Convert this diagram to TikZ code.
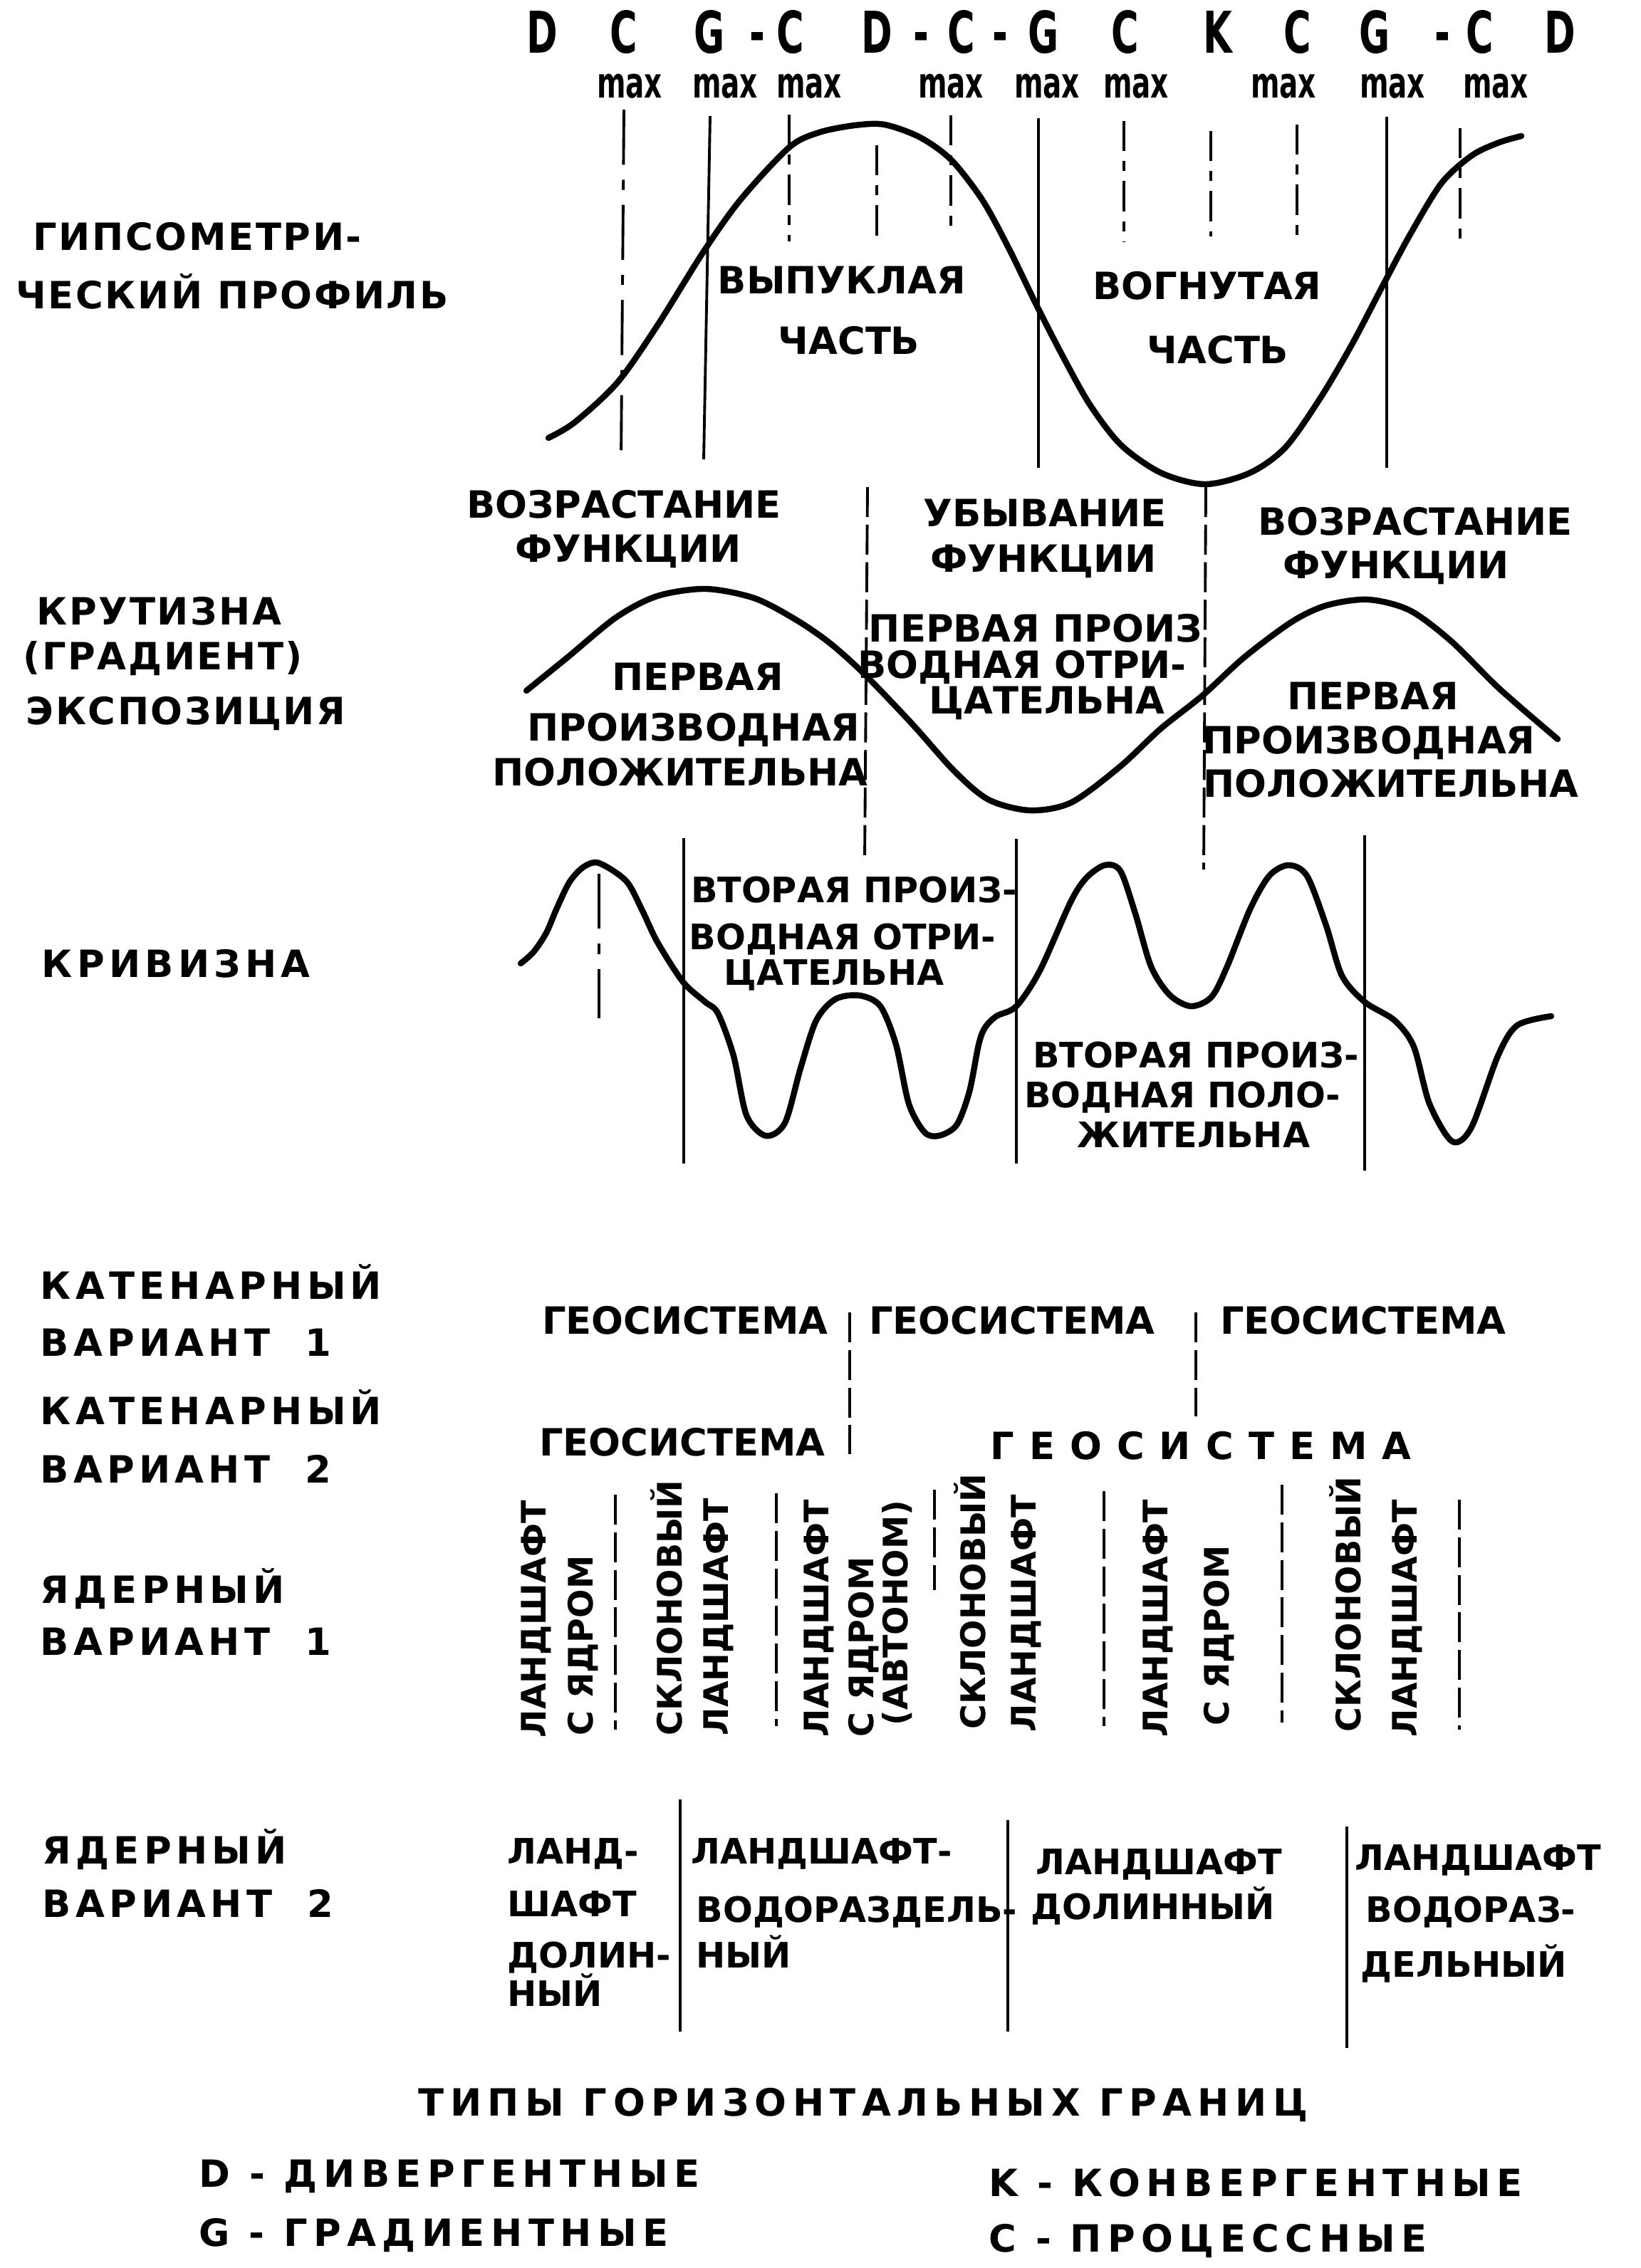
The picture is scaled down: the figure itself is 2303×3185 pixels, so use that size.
\documentclass[tikz,border=0pt]{standalone}
\usepackage{fontspec}
\setmainfont{DejaVu Sans}
\newfontfamily\narrowfont[FakeStretch=0.65]{DejaVu Sans}
\newfontfamily\sidefont[LetterSpace=5]{DejaVu Sans}
\newfontfamily\catfont[LetterSpace=12]{DejaVu Sans}
\newfontfamily\spacedfont[LetterSpace=40]{DejaVu Sans}
\newfontfamily\legendfont[LetterSpace=16]{DejaVu Sans}
\begin{document}
\begin{tikzpicture}[x=0.01cm,y=-0.01cm,
    lbl/.style={inner sep=0pt, font=\fontsize{15}{18}\selectfont\bfseries, text height=11pt, text depth=0pt},
    small/.style={inner sep=0pt, font=\fontsize{14}{17}\selectfont\bfseries, text height=10.2pt, text depth=0pt},
    side/.style={lbl, anchor=west, font=\sidefont\fontsize{15}{18}\selectfont\bfseries},
    cat/.style={lbl, anchor=west, font=\catfont\fontsize{15}{18}\selectfont\bfseries},
    vert/.style={inner sep=0pt, rotate=90, anchor=west, font=\fontsize{13.5}{16}\selectfont\bfseries, text height=9.9pt, text depth=0pt},
    letter/.style={inner sep=0pt, font=\narrowfont\fontsize{23}{26}\selectfont\bfseries, text height=16.8pt, text depth=0pt},
    maxlbl/.style={inner sep=0pt, font=\narrowfont\fontsize{17}{20}\selectfont\bfseries, text height=9.3pt, text depth=0pt},
    legend/.style={lbl, font=\legendfont\fontsize{15}{18}\selectfont\bfseries},
    curve/.style={line width=2.4pt, line join=round, line cap=round},
    solidline/.style={line width=1.1pt},
    dashdotline/.style={line width=1.1pt, dash pattern=on 22pt off 6pt on 4pt off 6pt},
    shortdash/.style={line width=1.1pt, dash pattern=on 12pt off 4pt on 4pt off 4pt},
    dashline/.style={line width=1.1pt, dash pattern=on 12pt off 3pt}]
    \useasboundingbox (0,0) rectangle (2303,3185);

    % boundary types along the profile
    \node[letter] (tD1) at (761,45) {D};
    \node[letter] (tC1) at (876,45) {C};
    \node[letter] (tG1) at (996,45) {G};
    \node[letter] (th1) at (1063,45) {-};
    \node[letter] (tC2) at (1110,45) {C};
    \node[letter] (tD2) at (1231,45) {D};
    \node[letter] (th2) at (1293,45) {-};
    \node[letter] (tC3) at (1350,45) {C};
    \node[letter] (th3) at (1404,45) {-};
    \node[letter] (tG2) at (1465,45) {G};
    \node[letter] (tC4) at (1580,45) {C};
    \node[letter] (tK)  at (1710,45) {K};
    \node[letter] (tC5) at (1822,45) {C};
    \node[letter] (tG3) at (1930,45) {G};
    \node[letter] (th4) at (2025,45) {-};
    \node[letter] (tC6) at (2078,45) {C};
    \node[letter] (tD3) at (2190,45) {D};
    \node[maxlbl] (m1) at (884,121) {max};
    \node[maxlbl] (m2) at (1018,121) {max};
    \node[maxlbl] (m3) at (1136,121) {max};
    \node[maxlbl] (m4) at (1335,121) {max};
    \node[maxlbl] (m5) at (1470,121) {max};
    \node[maxlbl] (m6) at (1595,121) {max};
    \node[maxlbl] (m7) at (1802,121) {max};
    \node[maxlbl] (m8) at (1955,121) {max};
    \node[maxlbl] (m9) at (2100,121) {max};

    % hypsometric profile
    \node[side] (gip1) at (46,332) {ГИПСОМЕТРИ-};
    \node[side] (gip2) at (22,414) {ЧЕСКИЙ ПРОФИЛЬ};
    \draw[dashdotline] (876,154) -- (872,643);
    \draw[solidline] (997,163) -- (988,645);
    \draw[shortdash] (1108,161) -- (1108,339);
    \draw[shortdash] (1231,204) -- (1231,339);
    \draw[shortdash] (1335,162) -- (1335,329);
    \draw[solidline] (1458,166) -- (1458,657);
    \draw[shortdash] (1578,170) -- (1578,339);
    \draw[shortdash] (1700,184) -- (1700,332);
    \draw[shortdash] (1821,175) -- (1821,336);
    \draw[solidline] (1947,164) -- (1947,657);
    \draw[shortdash] (2050,180) -- (2050,346);
    \draw[curve] plot[smooth] coordinates {(770,615) (807,593) (867,537) (923,457) (988,353) (1040,280) (1108,207) (1150,186) (1200,176) (1242,175) (1292,193) (1336,225) (1380,282) (1417,350) (1455,428) (1492,500) (1530,568) (1574,625) (1630,664) (1692,680) (1755,664) (1805,628) (1855,557) (1899,482) (1942,400) (1980,329) (2024,257) (2067,218) (2105,200) (2136,191)};
    \node[lbl] (vyp)  at (1182,393) {ВЫПУКЛАЯ};
    \node[lbl] (vypc) at (1192,478) {ЧАСТЬ};
    \node[lbl] (vog)  at (1695,401) {ВОГНУТАЯ};
    \node[lbl] (vogc) at (1710,491) {ЧАСТЬ};

    % slope
    \node[lbl] (voz1) at (876,708) {ВОЗРАСТАНИЕ};
    \node[lbl] (fun1) at (882,770) {ФУНКЦИИ};
    \node[lbl] (ub)   at (1467,720) {УБЫВАНИЕ};
    \node[lbl] (fun2) at (1465,784) {ФУНКЦИИ};
    \node[lbl] (voz2) at (1987,732) {ВОЗРАСТАНИЕ};
    \node[lbl] (fun3) at (1960,793) {ФУНКЦИИ};
    \node[side] (kr1) at (51,858) {КРУТИЗНА};
    \node[side] (kr2) at (32,921) {(ГРАДИЕНТ)};
    \node[side] (kr3) at (36,998) {ЭКСПОЗИЦИЯ};
    \draw[dashline] (1218,684) -- (1214,1209);
    \draw[dashline] (1693,684) -- (1690,1221);
    \draw[curve] plot[smooth] coordinates {(739,970) (797,923) (865,867) (923,837) (991,827) (1059,840) (1117,870) (1165,903) (1214,947) (1281,1017) (1340,1083) (1388,1123) (1446,1138) (1504,1127) (1572,1077) (1630,1023) (1688,977) (1747,923) (1814,873) (1863,850) (1921,842) (1979,857) (2037,900) (2105,967) (2187,1038)};
    \node[lbl] (p1a) at (980,950) {ПЕРВАЯ};
    \node[lbl] (p1b) at (974,1021) {ПРОИЗВОДНАЯ};
    \node[lbl] (p1c) at (955,1084) {ПОЛОЖИТЕЛЬНА};
    \node[lbl] (p2a) at (1454,882) {ПЕРВАЯ ПРОИЗ};
    \node[lbl] (p2b) at (1435,933) {ВОДНАЯ ОТРИ-};
    \node[lbl] (p2c) at (1470,983) {ЦАТЕЛЬНА};
    \node[lbl] (p3a) at (1928,977) {ПЕРВАЯ};
    \node[lbl] (p3b) at (1922,1039) {ПРОИЗВОДНАЯ};
    \node[lbl] (p3c) at (1953,1100) {ПОЛОЖИТЕЛЬНА};

    % curvature
    \node[cat] (kv) at (58,1353) {КРИВИЗНА};
    \draw[dashdotline] (841,1227) -- (841,1430);
    \draw[solidline] (960,1177) -- (960,1634);
    \draw[solidline] (1427,1178) -- (1427,1634);
    \draw[solidline] (1916,1173) -- (1916,1644);
    \draw[curve] plot[smooth] coordinates {(731,1353) (749,1337) (767,1310) (782,1275) (800,1238) (820,1217) (841,1212) (879,1237) (901,1277) (923,1323) (959,1379) (990,1407) (1008,1423) (1030,1483) (1048,1566) (1075,1595) (1102,1577) (1124,1500) (1146,1433) (1173,1403) (1207,1398) (1236,1413) (1258,1467) (1276,1550) (1298,1590) (1318,1595) (1343,1580) (1361,1533) (1374,1467) (1383,1443) (1399,1427) (1427,1413) (1460,1363) (1503,1267) (1525,1233) (1551,1215) (1573,1223) (1594,1283) (1616,1357) (1642,1397) (1672,1413) (1701,1400) (1723,1357) (1755,1277) (1782,1230) (1809,1215) (1835,1230) (1862,1300) (1884,1370) (1916,1407) (1958,1433) (1985,1470) (2007,1550) (2039,1603) (2066,1583) (2103,1483) (2130,1440) (2178,1427)};
    \node[small] (v1a) at (1199,1250) {ВТОРАЯ ПРОИЗ-};
    \node[small] (v1b) at (1183,1316) {ВОДНАЯ ОТРИ-};
    \node[small] (v1c) at (1171,1366) {ЦАТЕЛЬНА};
    \node[small] (v2a) at (1679,1482) {ВТОРАЯ ПРОИЗ-};
    \node[small] (v2b) at (1660,1538) {ВОДНАЯ ПОЛО-};
    \node[small] (v2c) at (1676,1594) {ЖИТЕЛЬНА};

    % catenary variants
    \node[cat] (kat1a) at (56,1805) {КАТЕНАРНЫЙ};
    \node[cat] (kat1b) at (56,1885) {ВАРИАНТ~~1};
    \node[cat] (kat2a) at (56,1981) {КАТЕНАРНЫЙ};
    \node[cat] (kat2b) at (56,2063) {ВАРИАНТ~~2};
    \node[lbl] (geo1) at (962,1854) {ГЕОСИСТЕМА};
    \node[lbl] (geo2) at (1421,1854) {ГЕОСИСТЕМА};
    \node[lbl] (geo3) at (1914,1854) {ГЕОСИСТЕМА};
    \node[lbl] (geo4) at (958,2025) {ГЕОСИСТЕМА};
    \node[lbl, font=\spacedfont\fontsize{15}{18}\selectfont\bfseries] (geo5) at (1686,2030) {ГЕОСИСТЕМА};
    \draw[dashline] (1193,1843) -- (1193,2042);
    \draw[dashline] (1679,1843) -- (1679,1989);

    % nuclear variant 1
    \node[cat] (yad1a) at (56,2232) {ЯДЕРНЫЙ};
    \node[cat] (yad1b) at (56,2305) {ВАРИАНТ~~1};
    \node[vert] (c1a) at (749,2441) {ЛАНДШАФТ};
    \node[vert] (c1b) at (815,2438) {С ЯДРОМ};
    \draw[dashline] (864,2099) -- (864,2429);
    \node[vert] (c2a) at (940,2438) {СКЛОНОВЫЙ};
    \node[vert] (c2b) at (1005,2438) {ЛАНДШАФТ};
    \draw[dashline] (1090,2097) -- (1090,2424);
    \node[vert] (c3a) at (1146,2440) {ЛАНДШАФТ};
    \node[vert] (c3b) at (1209,2440) {С ЯДРОМ};
    \node[vert] (c3c) at (1257,2424) {(АВТОНОМ)};
    \draw[dashline] (1312,2092) -- (1312,2233);
    \node[vert] (c4a) at (1366,2429) {СКЛОНОВЫЙ};
    \node[vert] (c4b) at (1437,2433) {ЛАНДШАФТ};
    \draw[dashline] (1550,2094) -- (1550,2424);
    \node[vert] (c5a) at (1622,2440) {ЛАНДШАФТ};
    \node[vert] (c5b) at (1708,2424) {С ЯДРОМ};
    \draw[dashline] (1800,2085) -- (1800,2419);
    \node[vert] (c6a) at (1893,2433) {СКЛОНОВЫЙ};
    \node[vert] (c6b) at (1972,2440) {ЛАНДШАФТ};
    \draw[dashline] (2049,2106) -- (2049,2429);

    % nuclear variant 2
    \node[cat] (yad2a) at (59,2598) {ЯДЕРНЫЙ};
    \node[cat] (yad2b) at (59,2673) {ВАРИАНТ~~2};
    \node[small, anchor=west] (n1a) at (712,2600) {ЛАНД-};
    \node[small, anchor=west] (n1b) at (712,2674) {ШАФТ};
    \node[small, anchor=west] (n1c) at (712,2746) {ДОЛИН-};
    \node[small, anchor=west] (n1d) at (712,2800) {НЫЙ};
    \draw[solidline] (955,2527) -- (955,2853);
    \node[small, anchor=west] (n2a) at (970,2600) {ЛАНДШАФТ-};
    \node[small, anchor=west] (n2b) at (977,2682) {ВОДОРАЗДЕЛЬ-};
    \node[small, anchor=west] (n2c) at (977,2746) {НЫЙ};
    \draw[solidline] (1415,2556) -- (1415,2853);
    \node[small, anchor=west] (n3a) at (1454,2615) {ЛАНДШАФТ};
    \node[small, anchor=west] (n3b) at (1447,2678) {ДОЛИННЫЙ};
    \draw[solidline] (1891,2565) -- (1891,2876);
    \node[small, anchor=west] (n4a) at (1902,2609) {ЛАНДШАФТ};
    \node[small, anchor=west] (n4b) at (1917,2682) {ВОДОРАЗ-};
    \node[small, anchor=west] (n4c) at (1910,2759) {ДЕЛЬНЫЙ};

    % legend
    \node[legend] (leg) at (1212,2952) {ТИПЫ ГОРИЗОНТАЛЬНЫХ ГРАНИЦ};
    \node[legend, anchor=west] (legD) at (279,3052) {D - ДИВЕРГЕНТНЫЕ};
    \node[legend, anchor=west] (legG) at (279,3135) {G - ГРАДИЕНТНЫЕ};
    \node[legend, anchor=west] (legK) at (1388,3065) {K - КОНВЕРГЕНТНЫЕ};
    \node[legend, anchor=west] (legC) at (1388,3143) {C - ПРОЦЕССНЫЕ};
\end{tikzpicture}
\end{document}
